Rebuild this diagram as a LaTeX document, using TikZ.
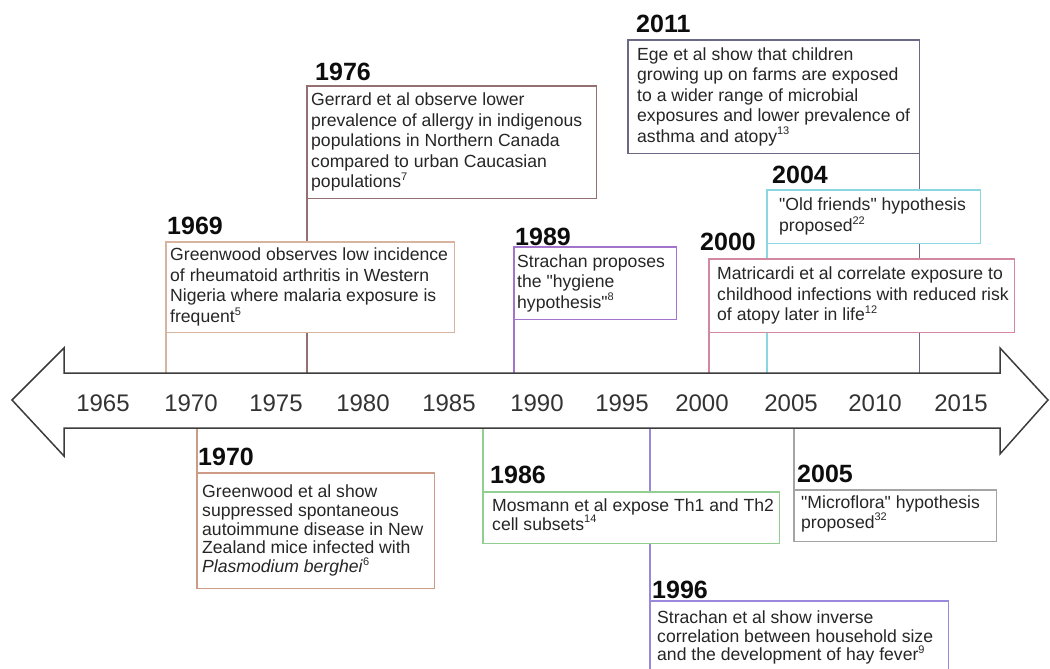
\documentclass[tikz,border=0pt]{standalone}
\usepackage{fontspec}
\setmainfont{Liberation Sans}
\newfontfamily\qf{Liberation Sans}
\newcommand\dq{{\qf\char"22}}
\newcommand\refn[1]{\raisebox{0.42em}{\fontsize{11}{11}\selectfont #1}}
\definecolor{c1969}{HTML}{D6B49E}
\definecolor{c1976}{HTML}{957070}
\definecolor{c1989}{HTML}{A474CC}
\definecolor{c2011}{HTML}{6A6A86}
\definecolor{c2004}{HTML}{8CD6E2}
\definecolor{c2000}{HTML}{D2889E}
\definecolor{c1970}{HTML}{CE9C86}
\definecolor{c1986}{HTML}{92CE92}
\definecolor{c2005}{HTML}{A4A4A4}
\definecolor{c1996}{HTML}{9A88DC}
\definecolor{arrowc}{HTML}{3C3C3C}
\tikzset{
  evbox/.style={draw=#1, line width=1.3pt, fill=white, inner sep=0pt, anchor=north west},
  conn/.style={draw=#1, line width=1.3pt},
  txt/.style={font=\fontsize{17.6}{20.5}\selectfont, align=left, inner sep=0pt, anchor=west, text=black!85},
  txtb/.style={font=\fontsize{17.6}{18.7}\selectfont, align=left, inner sep=0pt, anchor=west, text=black!85},
  head/.style={font=\fontsize{25}{25}\selectfont\bfseries, anchor=base west, inner sep=0pt, text=black!95},
  yr/.style={font=\fontsize{24}{24}\selectfont, anchor=base, inner sep=0pt, text=black!80},
}
\begin{document}
\begin{tikzpicture}[x=1pt,y=-1pt]
\useasboundingbox (0,0) rectangle (1050,669);
\coordinate (atop) at (0,373);
\coordinate (abot) at (0,428);
% boxes (placed first so connectors can reference them; drawn again on top)
\path
  (166,242) node[evbox=c1969, minimum width=287pt, minimum height=89pt] (b1969) {}
  (307,86)  node[evbox=c1976, minimum width=288pt, minimum height=111pt] (b1976) {}
  (514,247) node[evbox=c1989, minimum width=161pt, minimum height=71pt] (b1989) {}
  (628,40)  node[evbox=c2011, minimum width=290pt, minimum height=112pt] (b2011) {}
  (767,190) node[evbox=c2004, minimum width=212pt, minimum height=52pt] (b2004) {}
  (709,259) node[evbox=c2000, minimum width=304pt, minimum height=72pt] (b2000) {}
  (197,473) node[evbox=c1970, minimum width=236pt, minimum height=114pt] (b1970) {}
  (483,492) node[evbox=c1986, minimum width=295pt, minimum height=50pt] (b1986) {}
  (794,490) node[evbox=c2005, minimum width=201pt, minimum height=50pt] (b2005) {}
  (650,601) node[evbox=c1996, minimum width=297pt, minimum height=72pt] (b1996) {};
% connectors
\draw[conn=c1976] (b1976.south west) -- (b1976.south west |- atop);
\draw[conn=c1969] (b1969.south west) -- (b1969.south west |- atop);
\draw[conn=c1989] (b1989.south west) -- (b1989.south west |- atop);
\draw[conn=c2011] (b2011.south east) -- (b2011.south east |- atop);
\draw[conn=c2004] (b2004.south west) -- (b2004.south west |- atop);
\draw[conn=c2000] (b2000.south west) -- (b2000.south west |- atop);
\draw[conn=c1970] (b1970.north west) -- (b1970.north west |- abot);
\draw[conn=c1986] (b1986.north west) -- (b1986.north west |- abot);
\draw[conn=c2005] (b2005.north west) -- (b2005.north west |- abot);
\draw[conn=c1996] (b1996.north west) -- (b1996.north west |- abot);
% arrow
\draw[arrowc, line width=1.5pt, line join=miter]
  (12,400) -- (64,348) -- (64,373) -- (1000,373) -- (1000,348) -- (1048,400)
  -- (1000,454) -- (1000,428) -- (64,428) -- (64,456) -- cycle;
% redraw boxes on top of connectors
\foreach \b in {b1976,b1969,b1989,b2011,b2004,b2000,b1970,b1986,b2005,b1996}{
  \fill[white] (\b.north west) rectangle (\b.south east);
}
\draw[c1976, line width=1.3pt] (b1976.north west) rectangle (b1976.south east);
\draw[c1969, line width=1.3pt] (b1969.north west) rectangle (b1969.south east);
\draw[c1989, line width=1.3pt] (b1989.north west) rectangle (b1989.south east);
\draw[c2011, line width=1.3pt] (b2011.north west) rectangle (b2011.south east);
\draw[c2004, line width=1.3pt] (b2004.north west) rectangle (b2004.south east);
\draw[c2000, line width=1.3pt] (b2000.north west) rectangle (b2000.south east);
\draw[c1970, line width=1.3pt] (b1970.north west) rectangle (b1970.south east);
\draw[c1986, line width=1.3pt] (b1986.north west) rectangle (b1986.south east);
\draw[c2005, line width=1.3pt] (b2005.north west) rectangle (b2005.south east);
\draw[c1996, line width=1.3pt] (b1996.north west) rectangle (b1996.south east);
% year scale
\node[yr] (y1965) at (103,411) {1965};
\node[yr] (y1970) at (191,411) {1970};
\node[yr] (y1975) at (276,411) {1975};
\node[yr] (y1980) at (363,411) {1980};
\node[yr] (y1985) at (449,411) {1985};
\node[yr] (y1990) at (537,411) {1990};
\node[yr] (y1995) at (622,411) {1995};
\node[yr] (y2000) at (702,411) {2000};
\node[yr] (y2005) at (791,411) {2005};
\node[yr] (y2010) at (875,411) {2010};
\node[yr] (y2015) at (961,411) {2015};
% headings
\node[head] (h1969) at (167,234) {1969};
\node[head] (h1976) at (315,81) {1976};
\node[head] (h1989) at (515,245) {1989};
\node[head] (h2011) at (636,33) {2011};
\node[head] (h2004) at (772,183) {2004};
\node[head] (h2000) at (700,250) {2000};
\node[head] (h1970) at (198,465) {1970};
\node[head] (h1986) at (490,483) {1986};
\node[head] (h2005) at (797,482) {2005};
\node[head] (h1996) at (652,598) {1996};
% texts
\node[txt] (t1969) at ([xshift=4pt]b1969.west) {Greenwood observes low incidence\\of rheumatoid arthritis in Western\\Nigeria where malaria exposure is\\frequent\refn{5}};
\node[txt] (t1976) at ([xshift=4pt]b1976.west) {Gerrard et al observe lower\\prevalence of allergy in indigenous\\populations in Northern Canada\\compared to urban Caucasian\\populations\refn{7}};
\node[txt] (t1989) at ([xshift=3pt]b1989.west) {Strachan proposes\\the \dq hygiene\\hypothesis\dq\refn{8}};
\node[txt] (t2011) at ([xshift=9pt]b2011.west) {Ege et al show that children\\growing up on farms are exposed\\to a wider range of microbial\\exposures and lower prevalence of\\asthma and atopy\refn{13}};
\node[txt] (t2004) at ([xshift=12pt]b2004.west) {\dq Old friends\dq\ hypothesis\\proposed\refn{22}};
\node[txt] (t2000) at ([xshift=8pt]b2000.west) {Matricardi et al correlate exposure to\\childhood infections with reduced risk\\of atopy later in life\refn{12}};
\node[txtb] (t1970) at ([xshift=5pt]b1970.west) {Greenwood et al show\\suppressed spontaneous\\autoimmune disease in New\\Zealand mice infected with\\\textit{Plasmodium berghei}\refn{6}};
\node[txtb] (t1986) at ([xshift=9pt,yshift=3pt]b1986.west) {Mosmann et al expose Th1 and Th2\\cell subsets\refn{14}};
\node[txtb] (t2005) at ([xshift=7pt,yshift=2pt]b2005.west) {\dq Microflora\dq\ hypothesis\\proposed\refn{32}};
\node[txtb] (t1996) at ([xshift=7pt]b1996.west) {Strachan et al show inverse\\correlation between household size\\and the development of hay fever\refn{9}};
\end{tikzpicture}
\end{document}
